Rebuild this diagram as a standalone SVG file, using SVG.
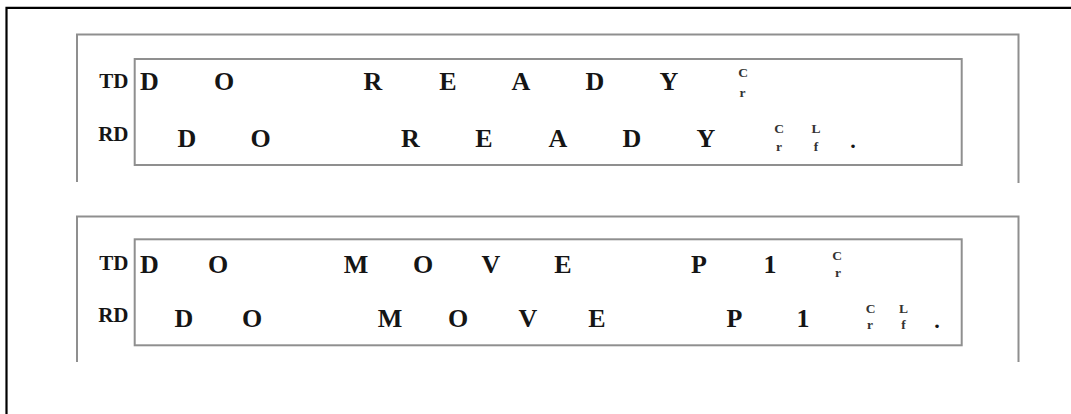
<svg xmlns="http://www.w3.org/2000/svg" width="1071" height="414" viewBox="0 0 1071 414">
<style>
.frame{fill:none;stroke:#000;stroke-width:2.2}
.panel{fill:none;stroke:#8f8f8f;stroke-width:2}
.box{fill:none;stroke:#8f8f8f;stroke-width:2}
text{font-family:"Liberation Serif","Times New Roman",serif;font-weight:bold;fill:#151515;text-anchor:middle}
.big{font-size:26px}
.lbl{font-size:21px;text-anchor:end}
.sm{font-size:13.5px;fill:#333}
.dot{font-size:22px}
</style>
<rect width="1071" height="414" fill="#fff"/>
<path class="frame" d="M6.5,414 V7.8 H1071"/>
<g id="panel-ready">
<path class="panel" d="M77,182 V34.5 H1018.5 V183"/>
<rect class="box" x="134.7" y="59" width="827" height="106"/>
<text class="lbl" x="128.5" y="87.5">TD</text>
<text class="lbl" x="128.5" y="141">RD</text>
<text class="big" y="90"><tspan x="149.5">D</tspan><tspan x="224">O</tspan><tspan x="373">R</tspan><tspan x="448">E</tspan><tspan x="521">A</tspan><tspan x="595">D</tspan><tspan x="669">Y</tspan></text>
<text class="sm" x="743" y="77">C</text>
<text class="sm" x="742.5" y="96.5">r</text>
<text class="big" y="146.5"><tspan x="187">D</tspan><tspan x="260.5">O</tspan><tspan x="410.5">R</tspan><tspan x="484">E</tspan><tspan x="558">A</tspan><tspan x="632">D</tspan><tspan x="706">Y</tspan></text>
<text class="sm" x="779" y="132.5">C</text>
<text class="sm" x="779" y="150.5">r</text>
<text class="sm" x="816" y="132.5">L</text>
<text class="sm" x="816" y="150.5">f</text>
<text class="dot" x="853" y="148">.</text>
</g>
<g id="panel-move">
<path class="panel" d="M77,362 V216.5 H1018.5 V362"/>
<rect class="box" x="134.7" y="239.3" width="827" height="106"/>
<text class="lbl" x="128.5" y="270">TD</text>
<text class="lbl" x="128.5" y="322">RD</text>
<text class="big" y="273"><tspan x="149.5">D</tspan><tspan x="218">O</tspan><tspan x="356">M</tspan><tspan x="423">O</tspan><tspan x="491">V</tspan><tspan x="563">E</tspan><tspan x="699">P</tspan><tspan x="770">1</tspan></text>
<text class="sm" x="837" y="260">C</text>
<text class="sm" x="838" y="277">r</text>
<text class="big" y="326.5"><tspan x="184">D</tspan><tspan x="252">O</tspan><tspan x="390">M</tspan><tspan x="458">O</tspan><tspan x="528">V</tspan><tspan x="597">E</tspan><tspan x="734.5">P</tspan><tspan x="803">1</tspan></text>
<text class="sm" x="870.5" y="312.5">C</text>
<text class="sm" x="870" y="329">r</text>
<text class="sm" x="903.5" y="312.5">L</text>
<text class="sm" x="903.5" y="329">f</text>
<text class="dot" x="937" y="328">.</text>
</g>
</svg>
